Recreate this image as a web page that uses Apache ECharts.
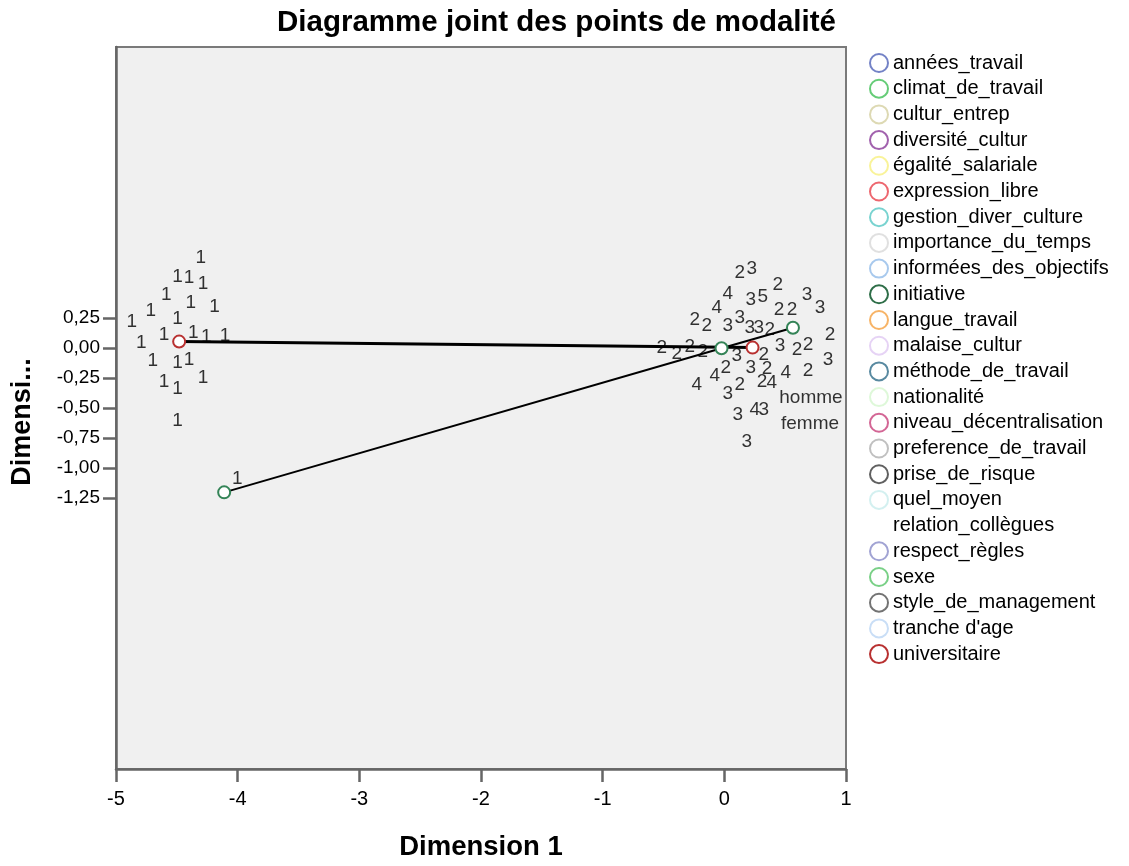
<!DOCTYPE html>
<html>
<head>
<meta charset="utf-8">
<script src="https://cdn.jsdelivr.net/npm/echarts@6/dist/echarts.min.js"></script>
<style>html,body{margin:0;padding:0;background:#fff}#c{width:1129px;height:866px}</style>
</head>
<body>
<div id="c"></div>
<script>
const chartTitle = 'Diagramme joint des points de modalité';
const xName = 'Dimension 1';
const yName = 'Dimensi...';
const yTicks = [0.25, 0, -0.25, -0.5, -0.75, -1, -1.25];

const varNames = ['années_travail','climat_de_travail','cultur_entrep','diversité_cultur','égalité_salariale','expression_libre','gestion_diver_culture','importance_du_temps','informées_des_objectifs','initiative','langue_travail','malaise_cultur','méthode_de_travail','nationalité','niveau_décentralisation','preference_de_travail','prise_de_risque','quel_moyen','relation_collègues','respect_règles','sexe','style_de_management',"tranche d'age",'universitaire'];
const varColors = ['#5063b8','#3fbf55','#d5cfa0','#8a3a98','#f8f080','#e8404a','#58c8c4','#d8d8d8','#92bce8','#2e6e48','#f5a040','#e0c8f2','#2e6c88','#d6f6d0','#c8407a','#b0b0b0','#383838','#c8ecec','#ffffff','#8a8cc8','#58c468','#505050','#bcd6f4','#b83030'];

// category points drawn with circles + joining lines
const univPts = [[-4.481, 0.052], [0.232, 0.002]];
const initPts = [[-4.111, -1.201], [-0.023, -0.003], [0.564, 0.167]];

// category labels (text only)
const lab1 = [[-4.303,0.750],[-4.495,0.594],[-4.399,0.585],[-4.284,0.530],[-4.586,0.437],[-4.385,0.373],[-4.191,0.340],[-4.714,0.305],[-4.871,0.214],[-4.495,0.244],[-4.792,0.044],[-4.605,0.112],[-4.364,0.126],[-4.257,0.091],[-4.103,0.099],[-4.697,-0.107],[-4.495,-0.121],[-4.399,-0.102],[-4.605,-0.286],[-4.495,-0.341],[-4.284,-0.245],[-4.495,-0.610],[-4.004,-1.086]];
const lab2 = [[0.128,0.621],[0.440,0.522],[0.449,0.316],[0.556,0.316],[-0.243,0.233],[-0.144,0.184],[0.374,0.151],[0.868,0.110],[0.597,-0.014],[0.687,0.027],[-0.514,0.002],[-0.391,-0.047],[-0.284,0.011],[-0.177,-0.031],[0.325,-0.055],[0.012,-0.162],[0.350,-0.171],[0.687,-0.187],[0.128,-0.303],[0.309,-0.286]];
const lab3 = [[0.226,0.654],[0.218,0.398],[0.679,0.439],[0.786,0.332],[0.029,0.184],[0.128,0.250],[0.210,0.167],[0.284,0.167],[0.457,0.019],[0.852,-0.096],[0.103,-0.063],[0.218,-0.162],[0.029,-0.385],[0.111,-0.558],[0.325,-0.517],[0.185,-0.781]];
const lab4 = [[0.029,0.448],[-0.062,0.332],[-0.078,-0.228],[-0.226,-0.303],[0.506,-0.204],[0.391,-0.294],[0.251,-0.517]];
const lab5 = [[0.317,0.423]];
const labHomme = [[0.712,-0.418]];
const labFemme = [[0.704,-0.632]];

const FONT = '"Liberation Sans", Arial, sans-serif';

const series = [];
varNames.forEach((n, i) => {
  if (n === 'universitaire' || n === 'initiative') {
    series.push({
      name: n, type: 'line', data: n === 'universitaire' ? univPts : initPts,
      symbol: 'emptyCircle', symbolSize: 12, showSymbol: true,
      itemStyle: { color: n === 'initiative' ? '#348457' : varColors[i], borderWidth: 1.6 },
      lineStyle: { color: '#000', width: n === 'universitaire' ? 3 : 2 },
      z: 3, silent: true
    });
  } else {
    series.push({ name: n, type: 'scatter', data: [], itemStyle: { color: varColors[i] } });
  }
});
const labelSets = [['1', lab1], ['2', lab2], ['3', lab3], ['4', lab4], ['5', lab5], ['homme', labHomme], ['femme', labFemme]];
labelSets.forEach(([t, pts]) => {
  series.push({
    name: 'lbl_' + t, type: 'scatter', data: pts, symbolSize: 0, z: 4, silent: true,
    label: { show: true, position: 'inside', formatter: () => t, color: '#000', fontSize: 19, fontFamily: FONT }
  });
});

const chart = echarts.init(document.getElementById('c'), null, { renderer: 'canvas' });
chart.setOption({
  animation: false,
  backgroundColor: '#ffffff',
  title: {
    text: chartTitle, left: 272, top: 3,
    textStyle: { fontSize: 29.5, fontWeight: 'bold', color: '#000', fontFamily: FONT }
  },
  grid: { left: 116, right: 283, top: 47, bottom: 90, show: true, backgroundColor: '#f0f0f0', borderColor: '#7a7a7a', borderWidth: 2 },
  legend: {
    orient: 'vertical', left: 864, top: 48,
    itemWidth: 18, itemHeight: 18, itemGap: 5.7,
    textStyle: { fontSize: 20, color: '#000', fontFamily: FONT, lineHeight: 18 },
    selectedMode: false,
    data: varNames.map((n, i) => ({ name: n, icon: 'circle', itemStyle: { color: 'rgba(0,0,0,0)', borderColor: varColors[i], borderWidth: 2 } }))
  },
  xAxis: {
    type: 'value', min: -5, max: 1, interval: 1,
    name: xName, nameLocation: 'middle', nameGap: 64,
    nameTextStyle: { fontSize: 27.5, fontWeight: 'bold', color: '#000', fontFamily: FONT },
    axisLine: { show: true, onZero: false, lineStyle: { color: '#666', width: 2.5 } },
    axisTick: { show: true, inside: false, length: 13, lineStyle: { color: '#666', width: 2.5 } },
    axisLabel: { fontSize: 20, color: '#000', margin: 20, fontFamily: FONT },
    splitLine: { show: false }
  },
  yAxis: {
    type: 'value', min: -3.5, max: 2.5,
    name: yName, nameLocation: 'middle', nameGap: 80, nameRotate: 90,
    nameTextStyle: { fontSize: 27, fontWeight: 'bold', color: '#000', fontFamily: FONT, padding: [0, 28, 0, 0] },
    axisLine: { show: true, onZero: false, lineStyle: { color: '#666', width: 2.5 } },
    axisTick: { show: true, inside: false, length: 13, customValues: yTicks, lineStyle: { color: '#666', width: 2.5 } },
    axisLabel: { fontSize: 19, color: '#000', margin: 16, fontFamily: FONT, customValues: yTicks,
      formatter: v => v.toFixed(2).replace('.', ',') },
    splitLine: { show: false }
  },
  series: series
});
</script>
</body>
</html>
